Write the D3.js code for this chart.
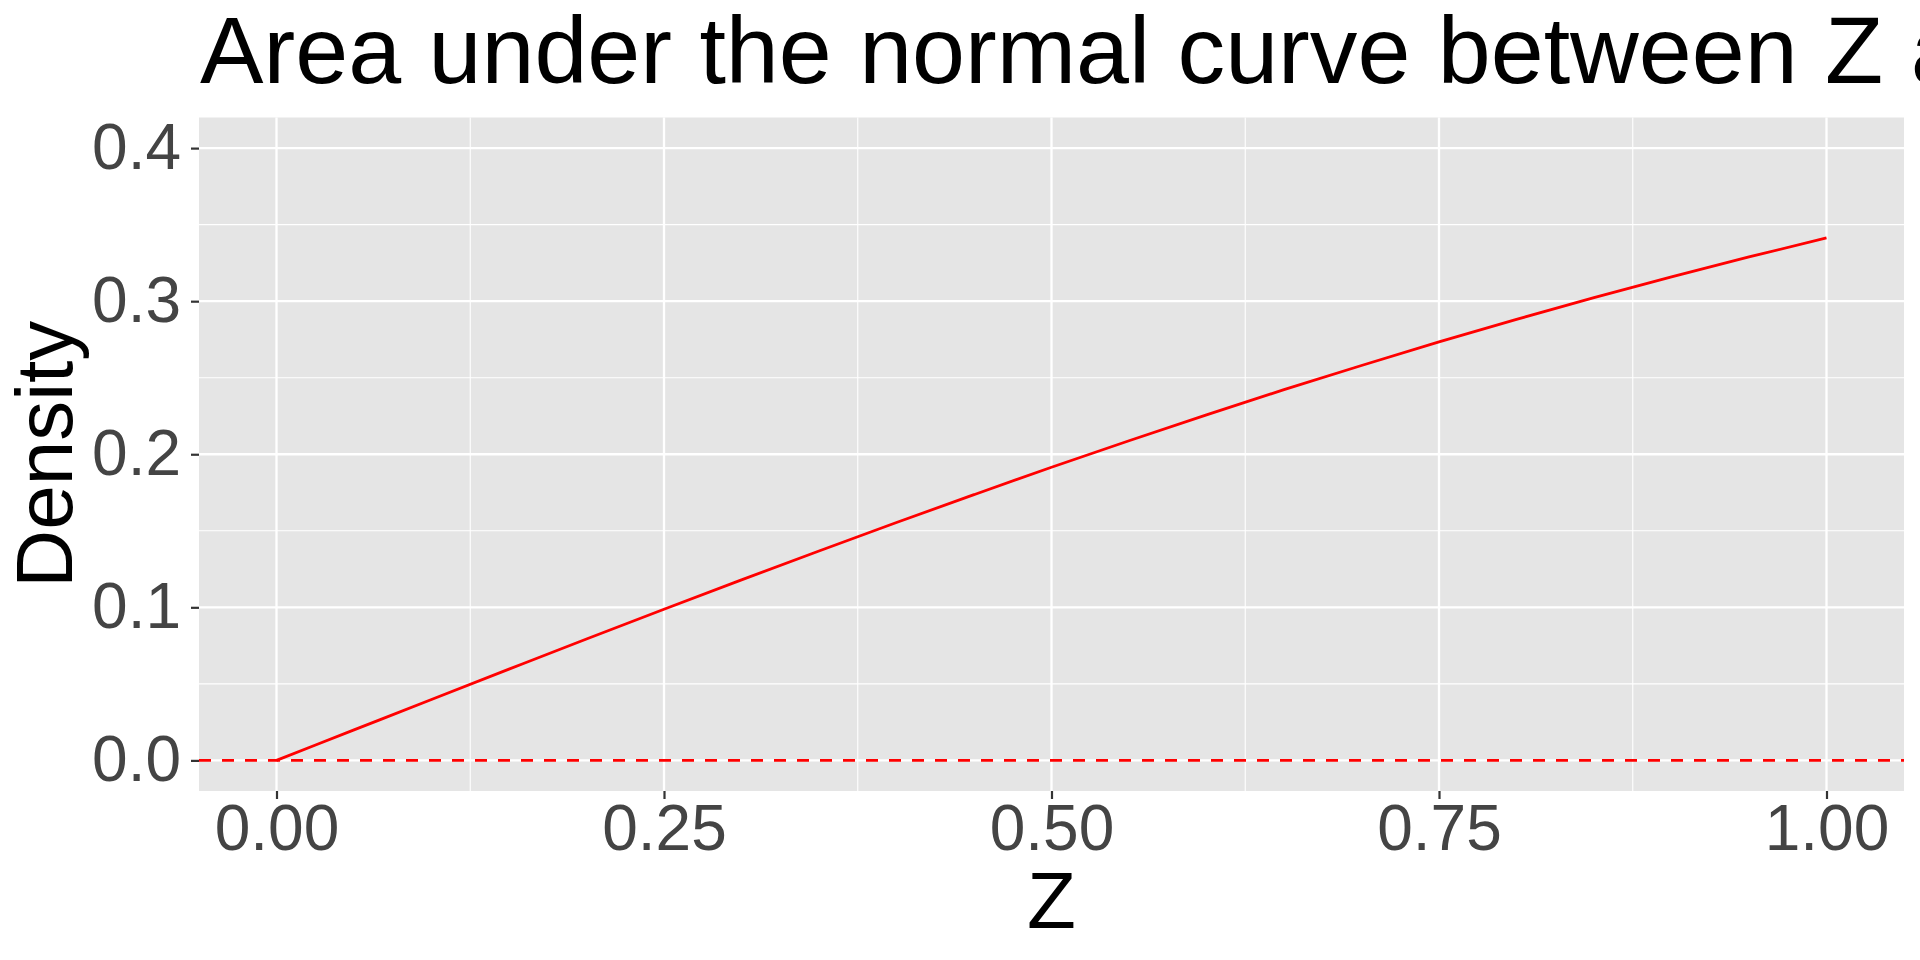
<!DOCTYPE html>
<html>
<head>
<meta charset="utf-8">
<script src="https://cdn.jsdelivr.net/npm/d3@7"></script>
<style>
  body { margin: 0; background: #fff; }
  svg { display: block; font-family: "Liberation Sans", Arial, sans-serif; }
</style>
</head>
<body>
<div id="chart"></div>
<script>
// data: cumulative area from 0 to z
const zValues = [0, 0.05, 0.1, 0.15, 0.2, 0.25, 0.3, 0.35, 0.4, 0.45, 0.5,
                 0.55, 0.6, 0.65, 0.7, 0.75, 0.8, 0.85, 0.9, 0.95, 1.0];
const areaValues = [0, 0.0199, 0.0398, 0.0596, 0.0793, 0.0987, 0.1179, 0.1368, 0.1554, 0.1736, 0.1915,
                    0.2088, 0.2257, 0.2422, 0.2580, 0.2734, 0.2881, 0.3023, 0.3159, 0.3289, 0.3413];
const hlineValue = 0;
const xTicks = [0, 0.25, 0.5, 0.75, 1];
const xMinor = [0.125, 0.375, 0.625, 0.875];
const yTicks = [0, 0.1, 0.2, 0.3, 0.4];
const yMinor = [0.05, 0.15, 0.25, 0.35];
const titleText = "Area under the normal curve between Z and the mean";

const W = 1920, H = 960;
const panel = { left: 199, right: 1904, top: 117.5, bottom: 791 };

const svg = d3.select("#chart").append("svg")
  .attr("width", W).attr("height", H);

// scales with ggplot-like 5% expansion
const x = d3.scaleLinear().domain([-0.05, 1.05]).range([panel.left, panel.right]);
const y = d3.scaleLinear().domain([-0.02, 0.42]).range([panel.bottom, panel.top]);

// panel background
svg.append("rect")
  .attr("x", panel.left).attr("y", panel.top)
  .attr("width", panel.right - panel.left).attr("height", panel.bottom - panel.top)
  .attr("fill", "#E5E5E5");

// minor grid
svg.append("g").selectAll("line").data(xMinor).join("line")
  .attr("x1", d => x(d)).attr("x2", d => x(d))
  .attr("y1", panel.top).attr("y2", panel.bottom)
  .attr("stroke", "#fff").attr("stroke-width", 1.1);
svg.append("g").selectAll("line").data(yMinor).join("line")
  .attr("y1", d => y(d)).attr("y2", d => y(d))
  .attr("x1", panel.left).attr("x2", panel.right)
  .attr("stroke", "#fff").attr("stroke-width", 1.1);

// major grid
svg.append("g").selectAll("line").data(xTicks).join("line")
  .attr("x1", d => x(d)).attr("x2", d => x(d))
  .attr("y1", panel.top).attr("y2", panel.bottom)
  .attr("stroke", "#fff").attr("stroke-width", 2.3);
svg.append("g").selectAll("line").data(yTicks).join("line")
  .attr("y1", d => y(d)).attr("y2", d => y(d))
  .attr("x1", panel.left).attr("x2", panel.right)
  .attr("stroke", "#fff").attr("stroke-width", 2.3);

// dashed horizontal reference line
svg.append("line")
  .attr("x1", panel.left).attr("x2", panel.right)
  .attr("y1", y(hlineValue)).attr("y2", y(hlineValue))
  .attr("stroke", "#FF0000").attr("stroke-width", 2.8)
  .attr("stroke-dasharray", "12,11");

// curve
const pts = zValues.map((z, i) => ({ z: z, a: areaValues[i] }));
svg.append("path")
  .datum(pts)
  .attr("fill", "none")
  .attr("stroke", "#FF0000")
  .attr("stroke-width", 2.8)
  .attr("d", d3.line().x(d => x(d.z)).y(d => y(d.a)).curve(d3.curveMonotoneX));

// x axis
const xAxis = svg.append("g")
  .attr("transform", `translate(0,${panel.bottom})`)
  .call(d3.axisBottom(x).tickValues(xTicks).tickFormat(d3.format(".2f"))
    .tickSize(8).tickPadding(6));
xAxis.select(".domain").remove();
xAxis.selectAll(".tick line").attr("stroke", "#333333").attr("stroke-width", 2.2);
xAxis.selectAll(".tick text")
  .attr("fill", "#444444").attr("font-size", 64)
  .attr("font-family", "Liberation Sans, Arial, sans-serif");

// y axis
const yAxis = svg.append("g")
  .attr("transform", `translate(${panel.left},0)`)
  .call(d3.axisLeft(y).tickValues(yTicks).tickFormat(d3.format(".1f"))
    .tickSize(8).tickPadding(10));
yAxis.select(".domain").remove();
yAxis.selectAll(".tick line").attr("stroke", "#333333").attr("stroke-width", 2.2);
yAxis.selectAll(".tick text")
  .attr("fill", "#444444").attr("font-size", 64)
  .attr("font-family", "Liberation Sans, Arial, sans-serif");

// axis titles
svg.append("text")
  .attr("x", (panel.left + panel.right) / 2).attr("y", 928)
  .attr("text-anchor", "middle").attr("font-size", 80).attr("fill", "#000")
  .text("Z");
svg.append("text")
  .attr("transform", `translate(72,${(panel.top + panel.bottom) / 2}) rotate(-90)`)
  .attr("text-anchor", "middle").attr("font-size", 80).attr("fill", "#000")
  .text("Density");

// title (runs past the right edge, as in the original)
svg.append("text")
  .attr("x", 200).attr("y", 83)
  .attr("font-size", 95.2).attr("fill", "#000")
  .attr("word-spacing", 1)
  .text(titleText);
</script>
</body>
</html>
